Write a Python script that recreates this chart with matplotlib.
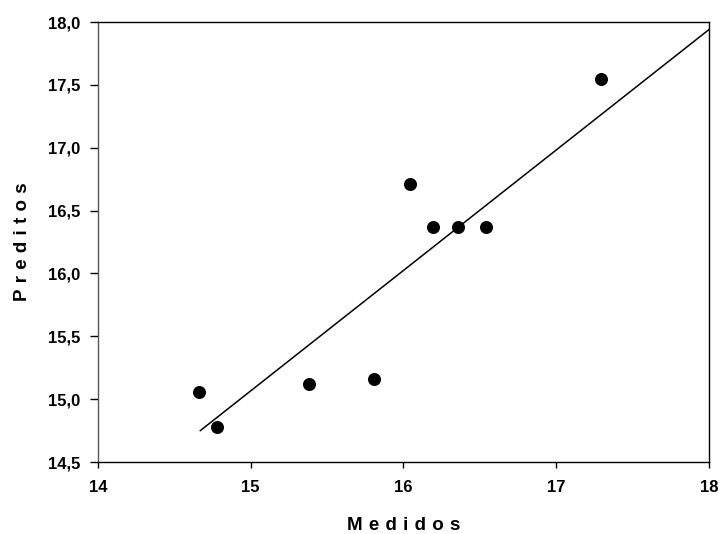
import matplotlib
matplotlib.use('Agg')
import matplotlib.pyplot as plt
from matplotlib.ticker import FuncFormatter

plt.rcParams['font.family'] = ['Liberation Sans', 'DejaVu Sans']

# measured vs predicted values
medidos = [14.66, 14.78, 15.38, 15.81, 16.04, 16.19, 16.36, 16.54, 17.29]
preditos = [15.06, 14.78, 15.12, 15.16, 16.71, 16.37, 16.37, 16.37, 17.55]

# fitted line end points
fit_x = [14.67, 18.0]
fit_y = [14.75, 17.94]

x_ticks = [14, 15, 16, 17, 18]
y_ticks = [14.5, 15.0, 15.5, 16.0, 16.5, 17.0, 17.5, 18.0]

fig = plt.figure(figsize=(7.2, 5.34), dpi=100)
ax = fig.add_axes([0.1361, 0.1348, 0.8486, 0.824])

ax.plot(fit_x, fit_y, color='black', lw=1.1, zorder=2)
ax.scatter(medidos, preditos, s=70, color='black', zorder=3)

ax.set_xlim(14, 18)
ax.set_ylim(14.5, 18.0)
ax.set_xticks(x_ticks)
ax.set_yticks(y_ticks)
ax.yaxis.set_major_formatter(FuncFormatter(lambda v, p: ('%.1f' % v).replace('.', ',')))

for sp in ax.spines.values():
    sp.set_linewidth(1.0)
ax.spines['left'].set_color('#555555')

ax.tick_params(axis='x', direction='out', length=4, width=1, pad=9, labelsize=12)
ax.tick_params(axis='y', direction='out', length=6, width=1, pad=7, labelsize=12)
for lab in ax.get_xticklabels() + ax.get_yticklabels():
    lab.set_fontweight('bold')

sp_ = '\u2004'
ax.set_xlabel(sp_.join('Medidos'), fontsize=13.5, fontweight='bold', labelpad=16)
ax.set_ylabel(sp_.join('Preditos'), fontsize=13.5, fontweight='bold', labelpad=12)

fig.savefig('out.png', dpi=100)
